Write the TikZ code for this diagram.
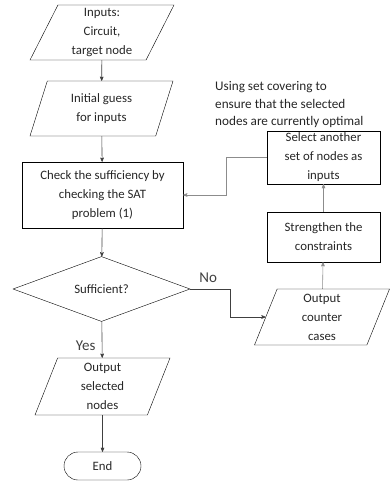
\documentclass[tikz,border=0pt]{standalone}
\usepackage{fontspec}
\setmainfont{Carlito}
\usepackage{tikz}
\usetikzlibrary{arrows}
\usetikzlibrary{calc}
\usetikzlibrary{positioning}
\usetikzlibrary{shapes.geometric}

\begin{document}
\begin{tikzpicture}[x=1bp,y=-1bp,
    font=\fontsize{12.8bp}{19bp}\selectfont,
    text=black!85,
    iobox/.style={draw,trapezium,trapezium left angle=60,trapezium right angle=120,
      trapezium stretches body,align=center,inner sep=0bp},
    procbox/.style={draw,rectangle,align=center,inner sep=0bp},
    flow/.style={draw,->,>=stealth',line width=0.6pt,black!75},
    back/.style={draw,->,>=stealth',line width=0.6pt,black!45}]

  \useasboundingbox (0,0) rectangle (390,486);

  \node [iobox,minimum width=144bp,minimum height=55bp] (inputs) at (102,32.5) {Inputs:\\Circuit,\\target node};
  \node [iobox,minimum width=143bp,minimum height=55bp] (guess) at (101.5,108.5) {Initial guess\\for inputs};
  \node [procbox,minimum width=161bp,minimum height=66bp] (check) at (102.5,195) {Check the sufficiency by\\checking the SAT\\problem (1)};
  \node [draw,diamond,minimum width=177bp,minimum height=65bp,inner sep=0pt] (suff) at (101.5,289) {Sufficient?};
  \node [iobox,trapezium left angle=64,trapezium right angle=116,minimum width=135bp,minimum height=57bp] (outsel) at (102.5,386.5) {Output\\selected\\nodes};
  \node [draw,rectangle,rounded corners=14bp,minimum width=77bp,minimum height=28bp] (end) at (102.5,466) {End};

  \node [iobox,trapezium left angle=64,trapezium right angle=116,minimum width=135bp,minimum height=56bp] (counter) at (322,317) {Output\\counter\\cases};
  \node [procbox,minimum width=113bp,minimum height=50bp] (strength) at (323.5,237) {Strengthen the\\constraints};
  \node [procbox,minimum width=113bp,minimum height=53bp] (select) at (323.5,157.5) {Select another\\set of nodes as\\inputs};
  \node [align=left,anchor=south west,inner sep=0pt,font=\fontsize{13.2bp}{17.5bp}\selectfont] (note) at (215,128) {Using set covering to\\ensure that the selected\\nodes are currently optimal};

  \path [flow]
    (inputs) edge (guess)
    (guess)  edge (check)
    (check)  edge (suff)
    (suff)   edge node [left=3bp,pos=0.68,font=\fontsize{15bp}{18bp}\selectfont] {Yes} (outsel)
    (outsel) edge (end);

  \path [flow] (suff.east) -- node [above=3bp,pos=0.45,font=\fontsize{15bp}{18bp}\selectfont] {No} ++(40,0) |- (counter.west);

  \path [back]
    (counter) edge (strength)
    (strength) edge (select);

  \path [back] (select.west) -- ++(-41,0) |- (check.east);

\end{tikzpicture}
\end{document}
